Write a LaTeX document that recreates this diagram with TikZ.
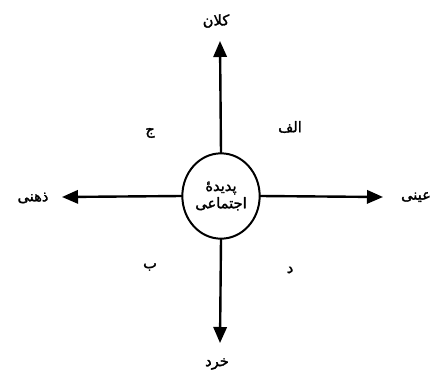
\documentclass[tikz,border=0pt]{standalone}
\usepackage{fontspec}
\newfontfamily\arabicfont[Script=Arabic, FakeBold=1.8]{DejaVu Sans}
\TeXXeTstate=1
\usetikzlibrary{arrows.meta,shapes.geometric}
\newcommand{\fa}[1]{{\arabicfont\beginR #1\endR}}
\tikzset{
  axis/.style={line width=1.8pt, -{Triangle[length=12pt, width=10pt]}},
  lab/.style={font=\arabicfont\fontsize{11}{12}\selectfont},
}
\begin{document}
\begin{tikzpicture}[x=0.75pt, y=-0.75pt, line cap=round, line join=round]
				\useasboundingbox (0,0) rectangle (432,379);
				\node[draw, line width=1.5pt, ellipse, minimum width=58pt, minimum height=64pt, inner sep=0pt, align=center, lab] (pad) at (221,196) {\beginR پدیدهٔ\endR\\[1pt]\beginR اجتماعی\endR};
				\coordinate (up) at (220,41);
				\coordinate (dn) at (220,343);
				\coordinate (lf) at (62,197);
				\coordinate (rt) at (383,197);
				\draw[axis] (pad.north) -- (up);
				\draw[axis] (pad.south) -- (dn);
				\draw[axis] (pad.west) -- (lf);
				\draw[axis] (pad.east) -- (rt);
				\node[lab] (kalan) at (216,21) {\fa{کلان}};
				\node[lab] (khord) at (217,364) {\fa{خرد}};
				\node[lab] (zehni) at (33,198) {\fa{ذهنی}};
				\node[lab] (eyni) at (416,197) {\fa{عینی}};
				\node[lab] (alef) at (290,127) {\fa{الف}};
				\node[lab] (jim) at (150,133) {\fa{ج}};
				\node[lab] (be) at (150,267) {\fa{ب}};
				\node[lab] (dal) at (290,270) {\fa{د}};
			\end{tikzpicture}
\end{document}
